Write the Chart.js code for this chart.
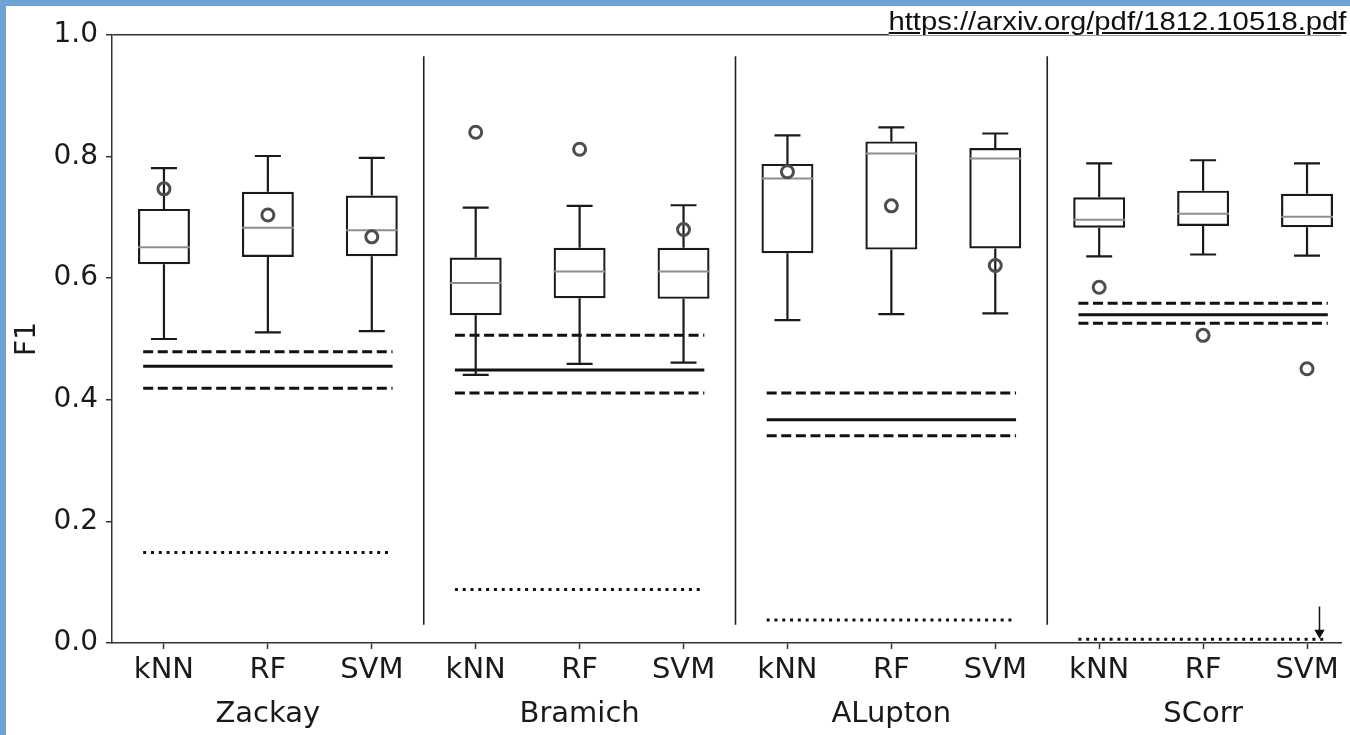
<!DOCTYPE html>
<html>
<head>
<meta charset="utf-8">
<script src="https://cdn.jsdelivr.net/npm/chart.js@4.4.1/dist/chart.umd.min.js"></script>
<style>
html, body { margin: 0; padding: 0; }
body { width: 1350px; height: 735px; background: #6fa3d4; overflow: hidden; position: relative; }
#panel { position: absolute; left: 6px; top: 6px; width: 1344px; height: 729px; background: #fff; }
#src { position: absolute; right: 4px; top: 8px; font: 25px "Liberation Sans", Arial, sans-serif; color: #111;
       text-decoration: underline; transform: scaleX(1.17); transform-origin: right top; background: #fff; line-height: 27px; }
</style>
</head>
<body>
<div id="panel"><canvas id="c" width="1344" height="729"></canvas></div>
<div id="src">https://arxiv.org/pdf/1812.10518.pdf</div>
<script>
const methods = ['Zackay', 'Bramich', 'ALupton', 'SCorr'];
const classifiers = ['kNN', 'RF', 'SVM'];
const yTicks = [0, 0.2, 0.4, 0.6, 0.8, 1.0];

// box statistics, 3 classifiers per method
const whiskerLow  = [0.500, 0.511, 0.513,  0.441, 0.459, 0.461,  0.531, 0.541, 0.542,  0.636, 0.639, 0.637];
const q1          = [0.623, 0.635, 0.636,  0.539, 0.567, 0.566,  0.641, 0.647, 0.649,  0.683, 0.686, 0.684];
const median      = [0.651, 0.683, 0.679,  0.592, 0.611, 0.611,  0.764, 0.805, 0.797,  0.696, 0.706, 0.701];
const q3          = [0.714, 0.742, 0.736,  0.634, 0.650, 0.650,  0.788, 0.825, 0.814,  0.733, 0.744, 0.739];
const whiskerHigh = [0.781, 0.801, 0.798,  0.716, 0.719, 0.720,  0.835, 0.848, 0.838,  0.789, 0.794, 0.789];
const circles     = [0.747, 0.704, 0.668,  0.840, 0.812, 0.680,  0.775, 0.719, 0.621,  0.585, 0.506, 0.451];

// per-method reference levels
const refMean   = [0.455, 0.449, 0.367, 0.540];
const refUpper  = [0.479, 0.506, 0.411, 0.559];
const refLower  = [0.419, 0.411, 0.341, 0.526];
const refDotted = [0.149, 0.088, 0.038, 0.006];

const separators = [2.5, 5.5, 8.5];
const separatorSpan = [0.03, 0.965];
const arrowX = 11.12;
const arrowSpan = [0.06, 0.017];

const FONT = 'DejaVu Sans';
const INK = '#1a1a1a';
const capHalf = 0.125, medHalf = 0.25, refSpan = [-0.2, 2.2];

function segments(pairs) {
  // flat list of two-point segments, broken by null points
  const out = [];
  pairs.forEach(([a, b]) => { out.push(a, b, {x: b.x, y: null}); });
  return out;
}

const whiskers = segments(q1.flatMap((_, i) => [
  [{x: i, y: q3[i]}, {x: i, y: whiskerHigh[i]}],
  [{x: i - capHalf, y: whiskerHigh[i]}, {x: i + capHalf, y: whiskerHigh[i]}],
  [{x: i, y: q1[i]}, {x: i, y: whiskerLow[i]}],
  [{x: i - capHalf, y: whiskerLow[i]}, {x: i + capHalf, y: whiskerLow[i]}]
]));
const medians = segments(median.map((m, i) => [{x: i - medHalf, y: m}, {x: i + medHalf, y: m}]));

function refLine(values) {
  return segments(values.map((v, g) => [{x: g * 3 + refSpan[0], y: v}, {x: g * 3 + refSpan[1], y: v}]));
}

function lineSet(data, color, width, dash) {
  return {type: 'line', data, borderColor: color, borderWidth: width, borderDash: dash || [],
          borderCapStyle: 'butt', pointRadius: 0, spanGaps: false, fill: false};
}

const datasets = [
  {type: 'line', data: circles.map((v, i) => ({x: i, y: v})), showLine: false,
   pointRadius: 6, pointBorderWidth: 3, pointBorderColor: '#4d4d4d', pointBackgroundColor: 'rgba(0,0,0,0)'},
  lineSet(medians, '#8e8e8e', 2),
  lineSet(whiskers, INK, 2.2),
  {type: 'bar', data: q1.map((v, i) => ({x: i, y: [v, q3[i]]})), backgroundColor: 'rgba(0,0,0,0)',
   borderColor: INK, borderWidth: 2.2, borderSkipped: false, barPercentage: 0.5, categoryPercentage: 1, grouped: false},
  lineSet(refLine(refMean), '#111', 3),
  lineSet(refLine(refUpper), '#111', 3, [10, 4.6]),
  lineSet(refLine(refLower), '#111', 3, [10, 4.6]),
  lineSet(refLine(refDotted), '#111', 3, [3, 4.8]),
  lineSet(segments(separators.map(x => [{x, y: separatorSpan[0]}, {x, y: separatorSpan[1]}])), '#222', 1.6),
  {type: 'line', data: arrowSpan.map(y => ({x: arrowX, y})), borderColor: '#111', borderWidth: 1.5,
   pointRadius: [0, 4.5], pointStyle: 'triangle', pointRotation: 180, pointBackgroundColor: '#111', pointBorderColor: '#111'}
];

const tickLabels = q1.map((_, i) => i % 3 === 1
  ? [classifiers[i % 3], methods[Math.floor(i / 3)]]
  : classifiers[i % 3]);

new Chart(document.getElementById('c'), {
  type: 'bar',
  data: {datasets},
  options: {
    responsive: false,
    animation: false,
    layout: {padding: {top: 29, right: 0, bottom: 0, left: 0}},
    plugins: {legend: {display: false}, tooltip: {enabled: false}},
    scales: {
      x: {
        // the plotted range runs past the right edge of the canvas
        type: 'linear', min: -0.5, max: 11.327, offset: false,
        afterBuildTicks: axis => { axis.ticks = tickLabels.map((_, i) => ({value: i})); },
        afterFit: axis => { axis.height = 92; },
        grid: {offset: false, drawOnChartArea: false, tickLength: 6, tickColor: '#333', tickWidth: 1.5},
        border: {color: '#333', width: 1.5},
        ticks: {callback: (v, idx) => tickLabels[idx], color: INK, padding: 0, maxRotation: 0, autoSkip: false,
                font: {family: FONT, size: 29, lineHeight: 1.5}}
      },
      y: {
        min: 0, max: 1,
        afterBuildTicks: axis => { axis.ticks = yTicks.map(v => ({value: v})); },
        afterFit: axis => { axis.width = 106; },
        grid: {color: c => (c.tick && c.tick.value === 1) ? '#333' : 'rgba(0,0,0,0)', lineWidth: 1.5,
               tickLength: 6, tickColor: '#333', tickWidth: 1.5},
        border: {color: '#333', width: 1.5},
        ticks: {callback: v => v.toFixed(1), color: INK, padding: 8, font: {family: FONT, size: 28}},
        title: {display: true, text: 'F1', color: INK, padding: {top: 5, bottom: 0}, font: {family: FONT, size: 28}}
      }
    }
  }
});
</script>
</body>
</html>
